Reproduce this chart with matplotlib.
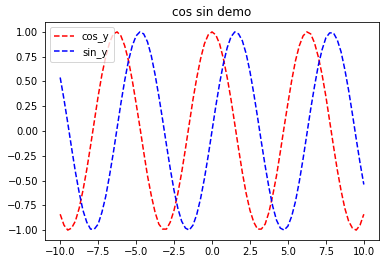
import numpy as np
import matplotlib
matplotlib.use("Agg")
from matplotlib import pyplot as plt

# sample positions
x = [-10.0, -9.75, -9.5, -9.25, -9.0, -8.75, -8.5, -8.25, -8.0, -7.75,
     -7.5, -7.25, -7.0, -6.75, -6.5, -6.25, -6.0, -5.75, -5.5, -5.25,
     -5.0, -4.75, -4.5, -4.25, -4.0, -3.75, -3.5, -3.25, -3.0, -2.75,
     -2.5, -2.25, -2.0, -1.75, -1.5, -1.25, -1.0, -0.75, -0.5, -0.25,
     0.0, 0.25, 0.5, 0.75, 1.0, 1.25, 1.5, 1.75, 2.0, 2.25,
     2.5, 2.75, 3.0, 3.25, 3.5, 3.75, 4.0, 4.25, 4.5, 4.75,
     5.0, 5.25, 5.5, 5.75, 6.0, 6.25, 6.5, 6.75, 7.0, 7.25,
     7.5, 7.75, 8.0, 8.25, 8.5, 8.75, 9.0, 9.25, 9.5, 9.75, 10.0]

cos_y = [-0.84, -0.95, -1.00, -0.98, -0.91, -0.78, -0.60, -0.39, -0.15, 0.10,
         0.35, 0.57, 0.75, 0.89, 0.98, 1.00, 0.96, 0.86, 0.71, 0.51,
         0.28, 0.04, -0.21, -0.45, -0.65, -0.82, -0.94, -0.99, -0.99, -0.92,
         -0.80, -0.63, -0.42, -0.18, 0.07, 0.32, 0.54, 0.73, 0.88, 0.97,
         1.00, 0.97, 0.88, 0.73, 0.54, 0.32, 0.07, -0.18, -0.42, -0.63,
         -0.80, -0.92, -0.99, -0.99, -0.94, -0.82, -0.65, -0.45, -0.21, 0.04,
         0.28, 0.51, 0.71, 0.86, 0.96, 1.00, 0.98, 0.89, 0.75, 0.57,
         0.35, 0.10, -0.15, -0.39, -0.60, -0.78, -0.91, -0.98, -1.00, -0.95, -0.84]

sin_y = [0.54, 0.32, 0.08, -0.17, -0.41, -0.62, -0.80, -0.92, -0.99, -0.99,
         -0.94, -0.82, -0.66, -0.45, -0.22, 0.03, 0.28, 0.51, 0.71, 0.86,
         0.96, 1.00, 0.98, 0.90, 0.76, 0.57, 0.35, 0.11, -0.14, -0.38,
         -0.60, -0.78, -0.91, -0.98, -1.00, -0.95, -0.84, -0.68, -0.48, -0.25,
         0.00, 0.25, 0.48, 0.68, 0.84, 0.95, 1.00, 0.98, 0.91, 0.78,
         0.60, 0.38, 0.14, -0.11, -0.35, -0.57, -0.76, -0.90, -0.98, -1.00,
         -0.96, -0.86, -0.71, -0.51, -0.28, -0.03, 0.22, 0.45, 0.66, 0.82,
         0.94, 0.99, 0.99, 0.92, 0.80, 0.62, 0.41, 0.17, -0.08, -0.32, -0.54]

fig = plt.figure(figsize=(390/72, 264/72), dpi=72)
fig.subplots_adjust(left=45/390, right=379/390, top=1-22/264, bottom=1-240/264)

plt.plot(x, cos_y, 'r--', label='cos_y')
plt.plot(x, sin_y, 'b--', label='sin_y')
plt.title('cos sin demo')
plt.legend(loc='upper left')

plt.savefig('out.png', dpi=72)
